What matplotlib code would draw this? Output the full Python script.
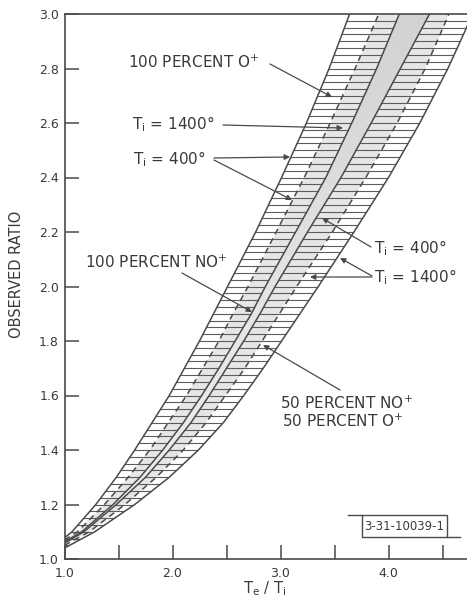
import numpy as np
import matplotlib
matplotlib.use("Agg")
import matplotlib.pyplot as plt
from matplotlib.patches import Polygon, Rectangle
from matplotlib.colors import LinearSegmentedColormap

plt.rcParams['font.family'] = ['DejaVu Sans']
plt.rcParams['mathtext.default'] = 'regular'

# ---------------- data ----------------
ratio_levels = [1.1, 1.2, 1.3, 1.4, 1.5, 1.6, 1.7, 1.8, 1.9, 2.0, 2.2, 2.4, 2.6, 2.8, 3.0]

# ratio at Te/Ti = 1.0 where each curve starts
start_ratio = {"A": 1.078, "B": 1.070, "C": 1.063, "D": 1.058, "E": 1.050, "F": 1.040}

# Te/Ti at each ratio level for the six curves (left to right)
te_ti_A = [1.07, 1.29, 1.48, 1.65, 1.81, 1.97, 2.11, 2.25, 2.38, 2.51, 2.77, 3.01, 3.24, 3.45, 3.64]
te_ti_B = [1.12, 1.37, 1.59, 1.79, 1.96, 2.13, 2.28, 2.43, 2.56, 2.70, 2.96, 3.22, 3.46, 3.69, 3.91]
te_ti_C = [1.16, 1.45, 1.70, 1.91, 2.10, 2.27, 2.43, 2.58, 2.73, 2.86, 3.14, 3.42, 3.66, 3.89, 4.10]
te_ti_D = [1.18, 1.48, 1.75, 1.97, 2.17, 2.34, 2.50, 2.66, 2.81, 2.95, 3.25, 3.56, 3.84, 4.11, 4.38]
te_ti_E = [1.23, 1.56, 1.85, 2.10, 2.31, 2.49, 2.67, 2.83, 2.99, 3.15, 3.48, 3.79, 4.08, 4.34, 4.56]
te_ti_F = [1.28, 1.65, 1.97, 2.24, 2.47, 2.66, 2.84, 3.01, 3.18, 3.35, 3.68, 4.00, 4.29, 4.55, 4.78]

y_ticks = [1.0, 1.2, 1.4, 1.6, 1.8, 2.0, 2.2, 2.4, 2.6, 2.8, 3.0]
x_major = [1.0, 2.0, 3.0, 4.0]
x_minor = [1.5, 2.5, 3.5, 4.5]

# ---------------- figure ----------------
W, H = 467, 605
fig = plt.figure(figsize=(W / 100, H / 100), dpi=100)
left_px, right_px, top_px, bot_px = 64.5, 467, 14, 559
ax = fig.add_axes([left_px / W, (H - bot_px) / H, (right_px - left_px) / W, (bot_px - top_px) / H])
XMAX = 1.0 + (right_px - left_px) / 108.0
ax.set_xlim(1.0, XMAX)
ax.set_ylim(1.0, 3.0)

LC = '#4a4a4a'
TC = '#3a3a3a'

def curve(xs, key):
    return np.array([1.0] + xs), np.array([start_ratio[key]] + ratio_levels)

xA, yA = curve(te_ti_A, "A")
xB, yB = curve(te_ti_B, "B")
xC, yC = curve(te_ti_C, "C")
xD, yD = curve(te_ti_D, "D")
xE, yE = curve(te_ti_E, "E")
xF, yF = curve(te_ti_F, "F")

def band_poly(xl, yl, xr, yr):
    p = Polygon(np.column_stack([np.concatenate([xl, xr[::-1]]),
                                 np.concatenate([yl, yr[::-1]])]),
                closed=True, facecolor='none', edgecolor='none',
                transform=ax.transData)
    ax.add_patch(p)
    return p

# light shading on the inner halves of the bands
ax.fill(np.concatenate([xB, xC[::-1]]), np.concatenate([yB, yC[::-1]]),
        color='#e6e6e4', lw=0, zorder=1)
ax.fill(np.concatenate([xD, xE[::-1]]), np.concatenate([yD, yE[::-1]]),
        color='#e6e6e4', lw=0, zorder=1)

# grey strip between the bands, darker towards the top
gap = band_poly(xC, yC, xD, yD)
cmap = LinearSegmentedColormap.from_list('g', ['#f1f1f0', '#e4e4e4', '#d2d2d2'])
grad = np.linspace(0, 1, 256).reshape(-1, 1)
im = ax.imshow(grad, extent=(1.0, XMAX, 1.0, 3.0), origin='lower', cmap=cmap,
               aspect='auto', zorder=1, interpolation='bilinear')
im.set_clip_path(gap)

# horizontal hatching of the two bands
hatch_y = np.arange(1.0, 3.0, 0.025)
for (xl, yl, xr, yr) in [(xA, yA, xC, yC), (xD, yD, xF, yF)]:
    poly = band_poly(xl, yl, xr, yr)
    lc = ax.hlines(hatch_y, 0.9, 5.0, colors='#5c5c5c', lw=0.8, zorder=2)
    lc.set_clip_path(poly)

for (xs, ys, ls) in [(xA, yA, '-'), (xB, yB, (0, (4, 3))), (xC, yC, '-'),
                     (xD, yD, '-'), (xE, yE, (0, (4, 3))), (xF, yF, '-')]:
    ax.plot(xs, ys, color=LC, lw=1.1, ls=ls, zorder=3, solid_capstyle='butt')

# ---------------- axes styling ----------------
for s in ['left', 'bottom', 'top']:
    ax.spines[s].set_color(LC)
    ax.spines[s].set_linewidth(1.2)
ax.spines['right'].set_visible(False)

ax.set_yticks(y_ticks)
ax.set_yticklabels([f"{v:.1f}" for v in y_ticks])
ax.set_xticks(x_major)
ax.set_xticklabels([f"{v:.1f}" for v in x_major])
ax.set_xticks(x_minor, minor=True)
ax.tick_params(axis='both', which='both', direction='in', length=10, width=1.1,
               color=LC, labelcolor=TC, labelsize=9)
ax.tick_params(axis='y', pad=4, right=False)
ax.tick_params(axis='x', pad=6, top=False)

ax.set_ylabel("OBSERVED RATIO", fontsize=10.5, color=TC)
ax.yaxis.set_label_coords(-0.10, 0.523)
ax.set_xlabel(r"T$_e$ / T$_i$", fontsize=10.5, color=TC)
ax.xaxis.set_label_coords(0.498, -0.038)

# ---------------- annotations ----------------
FS = 11
arr = dict(arrowstyle='-|>', color=LC, lw=0.9, mutation_scale=8, shrinkA=0, shrinkB=0)

def px2d(px, py):
    return (1.0 + (px - left_px) / 108.0, 1.0 + (bot_px - py) / 272.5)

ax.text(*px2d(128, 62), r"100 PERCENT O$^{+}$", fontsize=FS, color=TC, va='center', ha='left')
ax.annotate("", xy=px2d(332, 97), xytext=px2d(270, 64), arrowprops=arr)

ax.text(*px2d(132, 124), r"T$_i$ = 1400°", fontsize=FS, color=TC, va='center', ha='left')
ax.annotate("", xy=px2d(343, 128), xytext=px2d(223, 125), arrowprops=arr)

ax.text(*px2d(133, 159), r"T$_i$ = 400°", fontsize=FS, color=TC, va='center', ha='left')
ax.annotate("", xy=px2d(290, 157), xytext=px2d(214, 158), arrowprops=arr)
ax.annotate("", xy=px2d(292, 200), xytext=px2d(214, 160), arrowprops=arr)

ax.text(*px2d(85, 262), r"100 PERCENT NO$^{+}$", fontsize=FS, color=TC, va='center', ha='left')
ax.annotate("", xy=px2d(252, 312), xytext=px2d(182, 273), arrowprops=arr)

ax.text(*px2d(374, 248), r"T$_i$ = 400°", fontsize=FS, color=TC, va='center', ha='left')
ax.annotate("", xy=px2d(322, 218), xytext=px2d(371, 247), arrowprops=arr)

ax.text(*px2d(374, 277), r"T$_i$ = 1400°", fontsize=FS, color=TC, va='center', ha='left')
ax.annotate("", xy=px2d(340, 258), xytext=px2d(372, 276), arrowprops=arr)
ax.annotate("", xy=px2d(310, 277), xytext=px2d(372, 277), arrowprops=arr)

ax.text(*px2d(280, 403), r"50 PERCENT NO$^{+}$", fontsize=FS, color=TC, va='center', ha='left')
ax.text(*px2d(282, 421), r"50 PERCENT O$^{+}$", fontsize=FS, color=TC, va='center', ha='left')
ax.annotate("", xy=px2d(263, 345), xytext=px2d(340, 390), arrowprops=arr)

# figure-number stamp
x0, y0 = px2d(362, 537)
x1, y1 = px2d(447, 515)
ax.add_patch(Rectangle((x0, y0), x1 - x0, y1 - y0, fill=False, ec=LC, lw=1.0, zorder=4))
ax.plot([px2d(348, 515)[0], x0], [y1, y1], color=LC, lw=1.0)
ax.plot([x1, px2d(460, 537)[0]], [y0, y0], color=LC, lw=1.0)
ax.text((x0 + x1) / 2, (y0 + y1) / 2 - 0.002, "3-31-10039-1", fontsize=8.5, color=TC,
        ha='center', va='center')

fig.savefig("out.png", dpi=100, facecolor='white')
